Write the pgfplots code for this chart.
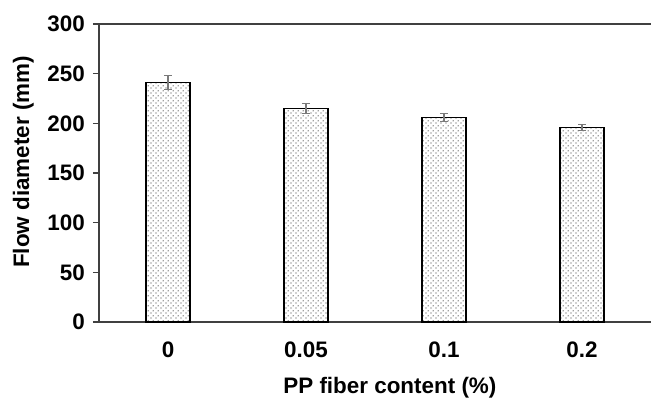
\documentclass[border=0pt]{standalone}
\usepackage{pgfplots}
\pgfplotsset{compat=1.18}
\usepackage{fontspec}
\setmainfont{Liberation Sans}
\usetikzlibrary{patterns}
\definecolor{axisgray}{HTML}{404040}
\definecolor{errgray}{HTML}{7A7A7A}
\pgfdeclarepatternformonly{refdots}{\pgfqpoint{0bp}{0bp}}{\pgfqpoint{5bp}{5bp}}{\pgfqpoint{5bp}{5bp}}{%
  \pgfpathcircle{\pgfqpoint{1.25bp}{1.25bp}}{0.75bp}%
  \pgfpathcircle{\pgfqpoint{3.75bp}{3.75bp}}{0.75bp}%
  \pgfusepath{fill}}
\newcommand{\reffont}{\bfseries\fontsize{22.5}{26}\selectfont}
\begin{document}
\begin{tikzpicture}
\useasboundingbox (-99bp,-77bp) rectangle (552bp,322bp);
\begin{axis}[
  at={(0,0)}, anchor=south west,
  scale only axis, width=552bp, height=298bp,
  xmin=-0.5, xmax=3.5, ymin=0, ymax=300,
  axis x line*=bottom, axis y line*=left,
  axis line style={draw=axisgray, line width=1.8bp},
  xtick={0,1,2,3}, xticklabels={0,0.05,0.1,0.2},
  xtick style={draw=none},
  ytick={0,50,100,150,200,250,300},
  tick align=outside, major tick length=6bp,
  ytick style={draw=axisgray, line width=1.5bp},
  /pgf/number format/assume math mode=true,
  tick label style={font=\reffont},
  label style={font=\reffont},
  xticklabel style={anchor=north, inner sep=0pt, yshift=-14bp},
  yticklabel style={anchor=east, inner sep=0pt, xshift=-8bp},
  xlabel={PP fiber content (\%)},
  ylabel={Flow diameter (mm)},
  xlabel style={at={(axis description cs:0.527,0)}, anchor=base, yshift=-71bp},
  ylabel style={at={(axis description cs:-0.1268,0.537)}, anchor=base},
  ybar, bar width=44bp,
  clip=false,
]
\addplot[draw=black, line width=1.4bp, fill=white,
  postaction={pattern=refdots, pattern color=black!75},
  error bars/.cd, y dir=both, y explicit,
  error bar style={errgray, line width=1.1bp},
  error mark options={rotate=90, mark size=4bp, line width=1.1bp, errgray}]
  coordinates {
    (0,241) +- (0,7)
    (1,215) +- (0,5)
    (2,206) +- (0,4)
    (3,196) +- (0,3)
  };
\draw[axisgray, line width=1.8bp] (rel axis cs:0,1) -- (rel axis cs:1,1);
\end{axis}
\end{tikzpicture}
\end{document}
